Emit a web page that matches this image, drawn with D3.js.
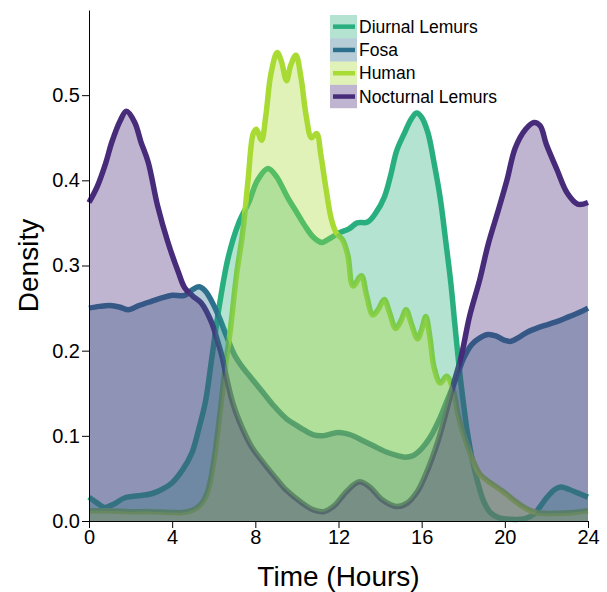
<!DOCTYPE html>
<html>
<head>
<meta charset="utf-8">
<script src="https://cdn.jsdelivr.net/npm/d3@7"></script>
<style>
  body { margin: 0; background: #fff; }
  svg { font-family: "Liberation Sans", Arial, Helvetica, sans-serif; }
</style>
</head>
<body>
<svg id="chart" width="607" height="592"></svg>
<script>
// activity density by time of day, [hour, density]
const diurnal = [[0,0.028],[0.4,0.021],[0.75,0.016],[1.2,0.02],[1.7,0.027],[2.5,0.03],[3.0,0.032],[3.5,0.037],[4.0,0.045],[4.5,0.06],[4.95,0.08],[5.3,0.11],[5.6,0.14],[5.9,0.19],[6.25,0.25],[6.7,0.31],[7.2,0.35],[7.7,0.375],[8.1,0.4],[8.6,0.414],[9.0,0.405],[9.55,0.38],[10.0,0.362],[10.4,0.346],[10.8,0.333],[11.2,0.327],[11.6,0.332],[12.0,0.338],[12.5,0.343],[12.9,0.35],[13.4,0.351],[13.8,0.362],[14.2,0.38],[14.5,0.405],[14.8,0.435],[15.2,0.457],[15.5,0.472],[15.75,0.479],[16.0,0.474],[16.3,0.456],[16.6,0.42],[16.9,0.378],[17.15,0.33],[17.4,0.28],[17.6,0.23],[17.8,0.181],[18.0,0.14],[18.2,0.104],[18.45,0.07],[18.7,0.045],[19.0,0.022],[19.3,0.01],[19.7,0.004],[20.3,0.002],[21.0,0.003],[21.4,0.008],[21.7,0.017],[22.0,0.027],[22.4,0.037],[22.7,0.04],[23.1,0.037],[23.5,0.033],[24,0.028]];

const fosa = [[0,0.25],[0.5,0.252],[1.0,0.253],[1.5,0.251],[1.9,0.248],[2.4,0.253],[3.0,0.258],[3.5,0.262],[4.0,0.265],[4.6,0.265],[5.0,0.272],[5.3,0.275],[5.6,0.27],[5.9,0.258],[6.25,0.24],[6.6,0.218],[7.0,0.195],[7.4,0.18],[7.8,0.168],[8.4,0.15],[8.9,0.135],[9.5,0.12],[10.0,0.112],[10.4,0.106],[10.8,0.101],[11.2,0.1],[11.6,0.102],[12.0,0.104],[12.6,0.101],[13.2,0.094],[13.7,0.088],[14.3,0.081],[14.8,0.077],[15.2,0.075],[15.6,0.077],[16.0,0.085],[16.4,0.098],[16.9,0.122],[17.2,0.14],[17.5,0.158],[17.8,0.177],[18.0,0.19],[18.4,0.207],[18.8,0.215],[19.2,0.219],[19.6,0.217],[20.0,0.212],[20.3,0.211],[20.7,0.216],[21.1,0.222],[21.6,0.227],[22.1,0.231],[22.6,0.235],[23.1,0.24],[23.6,0.245],[24,0.25]];

const human = [[0,0.012],[1,0.012],[2,0.011],[3,0.011],[4,0.01],[4.5,0.01],[5.0,0.013],[5.4,0.02],[5.7,0.034],[6.0,0.07],[6.3,0.127],[6.55,0.18],[6.8,0.225],[7.1,0.29],[7.4,0.34],[7.65,0.4],[7.9,0.455],[8.05,0.46],[8.3,0.447],[8.5,0.475],[8.75,0.525],[9.05,0.55],[9.25,0.54],[9.5,0.517],[9.7,0.535],[9.95,0.547],[10.2,0.52],[10.45,0.475],[10.7,0.45],[10.95,0.455],[11.15,0.43],[11.4,0.39],[11.65,0.355],[11.9,0.338],[12.2,0.33],[12.45,0.312],[12.7,0.276],[13.1,0.288],[13.35,0.265],[13.65,0.242],[13.9,0.248],[14.2,0.26],[14.45,0.245],[14.75,0.226],[15.0,0.235],[15.25,0.248],[15.5,0.232],[15.8,0.214],[16.0,0.225],[16.2,0.24],[16.4,0.215],[16.6,0.18],[16.9,0.162],[17.2,0.17],[17.5,0.155],[17.75,0.125],[18.0,0.103],[18.4,0.075],[18.8,0.055],[19.3,0.045],[19.9,0.035],[20.4,0.025],[21.0,0.015],[21.5,0.01],[22.5,0.009],[23.3,0.01],[24,0.012]];

const nocturnal = [[0,0.374],[0.4,0.393],[0.8,0.42],[1.1,0.445],[1.5,0.47],[1.8,0.481],[2.2,0.468],[2.5,0.445],[2.85,0.421],[3.3,0.37],[3.8,0.327],[4.3,0.292],[4.6,0.274],[5.0,0.264],[5.4,0.256],[5.9,0.233],[6.2,0.21],[6.4,0.193],[6.6,0.17],[6.9,0.14],[7.2,0.119],[7.8,0.088],[8.4,0.068],[9.0,0.05],[9.5,0.036],[10.2,0.022],[10.8,0.013],[11.3,0.011],[11.8,0.018],[12.4,0.035],[13.0,0.046],[13.5,0.04],[14.1,0.025],[14.8,0.017],[15.3,0.021],[15.8,0.035],[16.2,0.055],[16.8,0.095],[17.2,0.13],[17.5,0.158],[17.9,0.193],[18.3,0.24],[18.8,0.284],[19.2,0.325],[19.7,0.366],[20.1,0.4],[20.5,0.438],[21.0,0.46],[21.4,0.468],[21.7,0.464],[22.0,0.442],[22.5,0.413],[23.0,0.385],[23.5,0.372],[24,0.374]];

const seriesNames = ["Diurnal Lemurs", "Fosa", "Human", "Nocturnal Lemurs"];
const hourTicks = [0, 4, 8, 12, 16, 20, 24];
const densityTicks = [0, 0.1, 0.2, 0.3, 0.4, 0.5];

const series = [diurnal, fosa, human, nocturnal];
const colors = ["#29af7f", "#2d708e", "#a8db34", "#472c7a"];

const svg = d3.select("#chart");
const margin = { top: 10, left: 89, right: 19, bottom: 71 };
const w = 607 - margin.left - margin.right;
const h = 592 - margin.top - margin.bottom;

const x = d3.scaleLinear().domain([0, 24]).range([0, w]);
const y = d3.scaleLinear().domain([0, 0.6]).range([h, 0]);

const g = svg.append("g").attr("transform", `translate(${margin.left},${margin.top})`);

const line = d3.line()
  .x(d => x(d[0]))
  .y(d => y(d[1]))
  .curve(d3.curveCatmullRom.alpha(0.5));

const area = d3.area()
  .x(d => x(d[0]))
  .y0(y(0))
  .y1(d => y(d[1]))
  .curve(d3.curveCatmullRom.alpha(0.5));

// outlines go first, the see-through fills sit on top of them
g.append("g").selectAll("path")
  .data(series)
  .enter().append("path")
  .attr("d", line)
  .attr("fill", "none")
  .attr("stroke", (d, i) => colors[i])
  .attr("stroke-width", 5.5)
  .attr("stroke-linejoin", "round");

g.append("g").selectAll("path")
  .data(series)
  .enter().append("path")
  .attr("d", area)
  .attr("fill", (d, i) => colors[i])
  .attr("fill-opacity", 0.35);

// axes
const xAxis = g.append("g")
  .attr("transform", `translate(0,${h})`)
  .call(d3.axisBottom(x).tickValues(hourTicks).tickSize(7).tickSizeOuter(0).tickPadding(2));

const yAxis = g.append("g")
  .call(d3.axisLeft(y).tickValues(densityTicks).tickFormat(d3.format(".1f")).tickSize(7).tickSizeOuter(0).tickPadding(2));

[xAxis, yAxis].forEach(a => {
  a.selectAll("text").attr("font-size", "20px").attr("fill", "#000").attr("font-family", null);
  a.selectAll("line, path").attr("stroke", "#000");
});

// axis titles
svg.append("text")
  .attr("x", margin.left + w / 2)
  .attr("y", 586)
  .attr("text-anchor", "middle")
  .attr("font-size", "28px")
  .text("Time (Hours)");

svg.append("text")
  .attr("transform", `translate(38, ${margin.top + h / 2}) rotate(-90)`)
  .attr("text-anchor", "middle")
  .attr("font-size", "28px")
  .text("Density");

// legend: faded patch with the line colour through it
const legend = svg.append("g").attr("transform", "translate(330, 15)");
const rowH = 23.3;
seriesNames.forEach((name, i) => {
  const row = legend.append("g").attr("transform", `translate(0, ${i * rowH})`);
  row.append("rect")
    .attr("width", 27).attr("height", rowH)
    .attr("fill", colors[i]).attr("fill-opacity", 0.35);
  row.append("line")
    .attr("x1", 3).attr("x2", 25)
    .attr("y1", rowH / 2).attr("y2", rowH / 2)
    .attr("stroke", colors[i]).attr("stroke-width", 4.5);
  row.append("text")
    .attr("x", 29).attr("y", rowH / 2)
    .attr("dy", "0.35em")
    .attr("font-size", "17.5px")
    .text(name);
});
</script>
</body>
</html>
